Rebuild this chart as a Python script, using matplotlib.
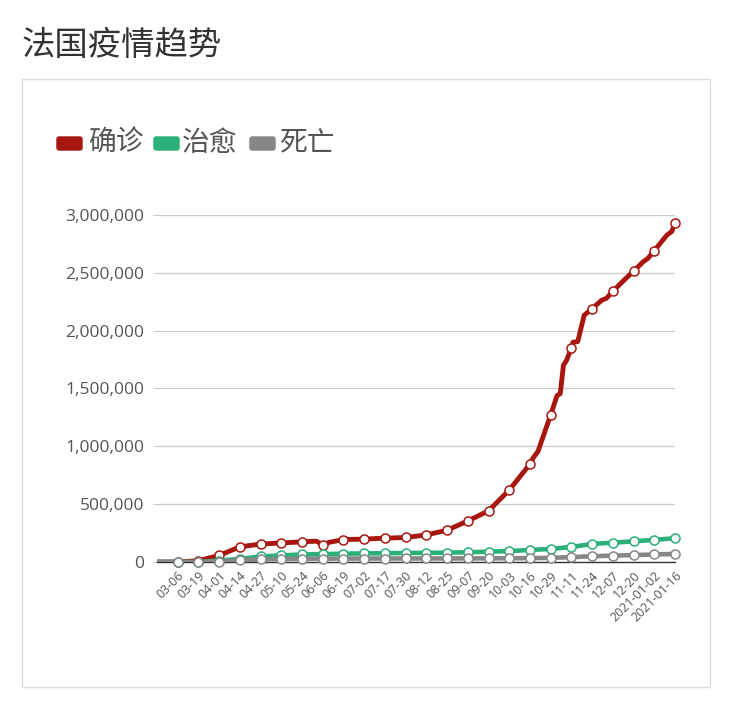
import numpy as np
import matplotlib.pyplot as plt
from matplotlib.patches import FancyBboxPatch, Rectangle

plt.rcParams['font.family'] = ['Open Sans', 'Noto Sans CJK SC', 'DejaVu Sans']

# 横轴标签 (每13个类目显示一个)
labels = ['03-06', '03-19', '04-01', '04-14', '04-27', '05-10', '05-24', '06-06',
          '06-19', '07-02', '07-17', '07-30', '08-12', '08-25', '09-07', '09-20',
          '10-03', '10-16', '10-29', '11-11', '11-24', '12-07', '12-20',
          '2021-01-02', '2021-01-16']
label_idx = [13 * (i + 1) for i in range(len(labels))]

# 确诊: 类目序号 / 数值
confirmed_idx = [0, 13, 26, 39, 52, 65, 78, 91, 98, 100, 104, 108, 117, 130, 143, 156,
                 169, 182, 195, 208, 221, 234, 236, 239, 247, 251, 253, 255, 257, 260,
                 261, 264, 268, 273, 279, 282, 286, 293, 299, 305, 308, 312, 316, 320,
                 323, 325]
confirmed = [12, 613, 10995, 57000, 131000, 155000, 165000, 174000, 179000, 180000,
             148000, 170000, 194000, 198000, 206000, 212000, 234000, 275000, 355000,
             442000, 622000, 847000, 900000, 955000, 1272000, 1439000, 1455000,
             1700000, 1745000, 1850000, 1900000, 1905000, 2133000, 2191000, 2263000,
             2280000, 2341000, 2436000, 2515000, 2595000, 2625000, 2691000, 2760000,
             2827000, 2858000, 2928000]

# 治愈 / 死亡: 每个标签点
series_idx = [0] + label_idx
recovered = [0, 12, 12, 12000, 27000, 48000, 57000, 65000, 68000, 72000, 74000, 76000,
             78000, 79000, 81000, 84000, 89000, 95000, 104000, 113000, 130000, 156000,
             167000, 179000, 191000, 206000]
deaths = [0, 9, 240, 4000, 15700, 23000, 26400, 28400, 29100, 29600, 29900, 30200,
          30300, 30500, 30700, 31000, 31500, 32300, 33600, 36000, 42000, 50000,
          55000, 60000, 64900, 70000]

red = '#a8170f'
green = '#2bb07a'
grey = '#878787'

fig = plt.figure(figsize=(7.32, 7.07), dpi=100)
W, H = 732, 707

fig.text(22 / W, 1 - 47 / H, '法国疫情趋势', fontsize=24, color='#333333',
         ha='left', va='center')
fig.patches.append(Rectangle((22 / W, 1 - 687 / H), 688 / W, 608 / H,
                             transform=fig.transFigure, fill=False,
                             edgecolor='#dddddd', lw=1))

ax = fig.add_axes([157 / W, 1 - 562 / H, 518 / W, 347 / H])

def draw(x, y, color, mark_y, lw):
    ax.plot(x, y, color=color, lw=lw, solid_joinstyle='round', zorder=3)
    ax.plot(series_idx[1:], mark_y, 'o', ms=6.5, mfc='white', mec=color, mew=1.1,
            zorder=4, ls='none', clip_on=False)

conf_marks = [confirmed[confirmed_idx.index(i)] for i in label_idx]
draw(confirmed_idx, confirmed, red, conf_marks, 3.5)
draw(series_idx, recovered, green, recovered[1:], 3.3)
draw(series_idx, deaths, grey, deaths[1:], 3.3)

ax.set_xlim(0, 325)
ax.set_ylim(0, 3000000)
ax.set_yticks(np.arange(0, 3000001, 500000))
ax.set_yticklabels([f'{v:,}' for v in range(0, 3000001, 500000)])
ax.set_xticks(label_idx)
ax.set_xticklabels(labels, rotation=45, ha='right', va='top', rotation_mode='anchor')
ax.tick_params(axis='y', labelsize=12.5, labelcolor='#555555', length=3,
               color='#cccccc', pad=6)
ax.tick_params(axis='x', labelsize=9, labelcolor='#555555', length=0, pad=5)
ax.grid(axis='y', color='#cccccc', lw=0.9)
ax.set_axisbelow(True)
for s in ['top', 'right', 'left']:
    ax.spines[s].set_visible(False)
ax.spines['bottom'].set_color('#333333')
ax.spines['bottom'].set_linewidth(1)
ax.set_facecolor('none')

# 图例
legend_items = [('确诊', red, 57, 88), ('治愈', green, 154, 182), ('死亡', grey, 250, 279)]
for name, c, x0, tx in legend_items:
    fig.patches.append(FancyBboxPatch((x0 / W, 1 - 150 / H), 25 / W, 13 / H,
                                      boxstyle='round,pad=0.001,rounding_size=0.004',
                                      transform=fig.transFigure, facecolor=c,
                                      edgecolor='none'))
    fig.text(tx / W, 1 - 144 / H, name, fontsize=20, color='#555555',
             ha='left', va='center')

fig.savefig('out.png', dpi=100)
